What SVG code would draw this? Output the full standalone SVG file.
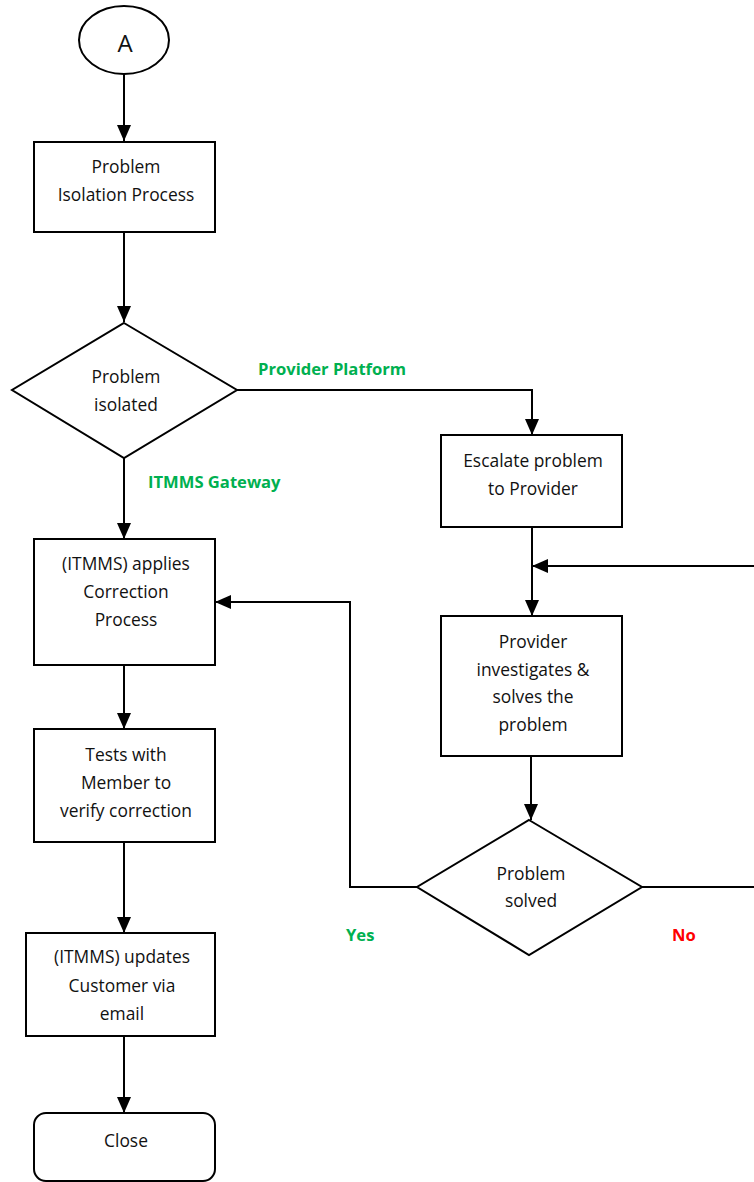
<svg xmlns="http://www.w3.org/2000/svg" width="754" height="1182" viewBox="0 0 754 1182">
<defs>
<style>
.shape{fill:#fff;stroke:#000;stroke-width:2}
.conn{fill:none;stroke:#000;stroke-width:2}
.t{font-family:"Open Sans","Liberation Sans",sans-serif;font-size:17.4px;fill:#111;text-anchor:middle}
.lbl{font-family:"Open Sans","Liberation Sans",sans-serif;font-size:16.6px;font-weight:bold}
.g{fill:#00B050}
.r{fill:#FF0000}
</style>
<marker id="ah" markerUnits="userSpaceOnUse" markerWidth="16" markerHeight="14" viewBox="0 0 16 14" refX="16" refY="7" orient="auto">
<path d="M0,0 L16,7 L0,14 Z" fill="#000"/>
</marker>
</defs>
<rect width="754" height="1182" fill="#fff"/>
<g id="connectors">
<path class="conn" d="M124,74 V141" marker-end="url(#ah)"/>
<path class="conn" d="M124,232 V322" marker-end="url(#ah)"/>
<path class="conn" d="M124,458 V539" marker-end="url(#ah)"/>
<path class="conn" d="M237,390 H532 V435" marker-end="url(#ah)"/>
<path class="conn" d="M532,527 V616" marker-end="url(#ah)"/>
<path class="conn" d="M642,887 H762 V566 H532" marker-end="url(#ah)"/>
<path class="conn" d="M531,756 V820" marker-end="url(#ah)"/>
<path class="conn" d="M417,887 H350 V602 H215" marker-end="url(#ah)"/>
<path class="conn" d="M124,665 V729" marker-end="url(#ah)"/>
<path class="conn" d="M124,842 V933" marker-end="url(#ah)"/>
<path class="conn" d="M124,1036 V1113" marker-end="url(#ah)"/>
</g>
<g id="labels">
<text class="lbl g" x="258" y="375">Provider Platform</text>
<text class="lbl g" x="148" y="488">ITMMS Gateway</text>
<text class="lbl g" x="346" y="941">Yes</text>
<text class="lbl r" x="672" y="941">No</text>
</g>
<g id="start">
<ellipse class="shape" cx="124" cy="40" rx="45" ry="34"/>
<text class="t" x="125" y="52" style="font-size:24px">A</text>
</g>
<g id="isolation">
<rect class="shape" x="34" y="142" width="181" height="90"/>
<text class="t" x="126" y="173">Problem</text>
<text class="t" x="126" y="201">Isolation Process</text>
</g>
<g id="isolated">
<polygon class="shape" points="124,323 237,390 124,458 12,390"/>
<text class="t" x="126" y="383">Problem</text>
<text class="t" x="126" y="411">isolated</text>
</g>
<g id="escalate">
<rect class="shape" x="441" y="435" width="181" height="92"/>
<text class="t" x="533" y="467">Escalate problem</text>
<text class="t" x="533" y="495">to Provider</text>
</g>
<g id="provider">
<rect class="shape" x="441" y="616" width="181" height="140"/>
<text class="t" x="533" y="648">Provider</text>
<text class="t" x="533" y="676">investigates &amp;</text>
<text class="t" x="533" y="703">solves the</text>
<text class="t" x="533" y="731">problem</text>
</g>
<g id="solved">
<polygon class="shape" points="529,820 642,887 529,955 417,887"/>
<text class="t" x="531" y="880">Problem</text>
<text class="t" x="531" y="907">solved</text>
</g>
<g id="correction">
<rect class="shape" x="34" y="539" width="181" height="126"/>
<text class="t" x="126" y="570">(ITMMS) applies</text>
<text class="t" x="126" y="598">Correction</text>
<text class="t" x="126" y="626">Process</text>
</g>
<g id="tests">
<rect class="shape" x="34" y="729" width="181" height="113"/>
<text class="t" x="126" y="761">Tests with</text>
<text class="t" x="126" y="789">Member to</text>
<text class="t" x="126" y="817">verify correction</text>
</g>
<g id="updates">
<rect class="shape" x="26" y="933" width="189" height="103"/>
<text class="t" x="122" y="963">(ITMMS) updates</text>
<text class="t" x="122" y="992">Customer via</text>
<text class="t" x="122" y="1020">email</text>
</g>
<g id="close">
<rect class="shape" x="34" y="1113" width="181" height="68" rx="12" ry="12"/>
<text class="t" x="126" y="1147">Close</text>
</g>
</svg>
